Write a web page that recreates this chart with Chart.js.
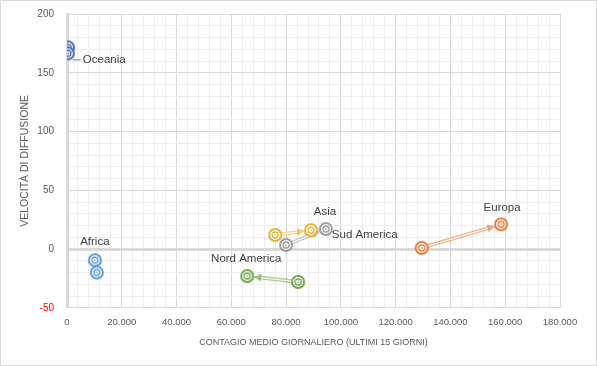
<!DOCTYPE html>
<html>
<head>
<meta charset="utf-8">
<script src="https://cdn.jsdelivr.net/npm/chart.js@4"></script>
<style>
  html, body { margin: 0; padding: 0; background: #fff; }
  #wrap { width: 595px; height: 364px; border: 1px solid #d9d9d9; position: relative; }
</style>
</head>
<body>
<div id="wrap"><canvas id="myChart" width="595" height="364"></canvas></div>
<script>
// data
let regions = ["Oceania", "Africa", "Nord America", "Asia", "Sud America", "Europa"];
let xPrev = [400, 10200, 84400, 76000, 80000, 129500];
let yPrev = [171.5, -9.5, -28, 12, 3.5, 1];
let xLast = [300, 10900, 65800, 89100, 94500, 158500];
let yLast = [166.5, -20, -23, 16, 17, 21];
let colors = ["#4a6cb3", "#5b9bd5", "#72a44c", "#e5b232", "#9c9c9c", "#e07b3c"];
let xTicks = [0, 20000, 40000, 60000, 80000, 100000, 120000, 140000, 160000, 180000];
let yTicks = [-50, 0, 50, 100, 150, 200];

// label offsets from the last point (text placement)
let labelPos = [
  { dx: 15, dy: 6, align: "left" },
  { dx: -2, dy: -31, align: "center" },
  { dx: -1, dy: -17, align: "center" },
  { dx: 14, dy: -18, align: "center" },
  { dx: 6, dy: 6, align: "left" },
  { dx: 1, dy: -17, align: "center" },
];

function ringIcon(color) {
  let c = document.createElement("canvas");
  c.width = 16;
  c.height = 16;
  let g = c.getContext("2d");
  g.fillStyle = "rgba(255,255,255,0.8)";
  g.strokeStyle = color;
  g.lineWidth = 2;
  g.beginPath();
  g.arc(8, 8, 6, 0, 2 * Math.PI);
  g.fill();
  g.stroke();
  g.lineWidth = 1.3;
  g.beginPath();
  g.arc(8, 8, 3, 0, 2 * Math.PI);
  g.stroke();
  g.fillStyle = color;
  g.beginPath();
  g.arc(8, 8, 0.8, 0, 2 * Math.PI);
  g.fill();
  return c;
}

function hexA(hex, a) {
  let n = parseInt(hex.slice(1), 16);
  return `rgba(${(n >> 16) & 255}, ${(n >> 8) & 255}, ${n & 255}, ${a})`;
}

let fmt = (v) => (v === 0 ? "0" : v.toLocaleString("it-IT"));

let datasets = regions.map((name, i) => ({
  label: name,
  data: [
    { x: xPrev[i], y: yPrev[i] },
    { x: xLast[i], y: yLast[i] },
  ],
  pointStyle: ringIcon(colors[i]),
  pointRadius: 6,
  showLine: false,
}));

// arrows between previous and last point + region labels
let arrowPlugin = {
  id: "arrows",
  beforeDatasetsDraw(chart) {
    let ctx = chart.ctx;
    chart.data.datasets.forEach((ds, i) => {
      let pts = chart.getDatasetMeta(i).data;
      let a = pts[0], b = pts[1];
      let dx = b.x - a.x, dy = b.y - a.y;
      let len = Math.hypot(dx, dy);
      if (len < 14) return;
      let ux = dx / len, uy = dy / len;
      let sx = a.x + ux * 6, sy = a.y + uy * 6;
      let ex = b.x - ux * 6, ey = b.y - uy * 6;
      let col = colors[i];
      ctx.save();
      ctx.lineCap = "butt";
      ctx.strokeStyle = hexA(col, 0.55);
      ctx.lineWidth = 3.8;
      ctx.beginPath();
      ctx.moveTo(sx, sy);
      ctx.lineTo(ex - ux * 6, ey - uy * 6);
      ctx.stroke();
      ctx.strokeStyle = "#fff";
      ctx.lineWidth = 1.1;
      ctx.beginPath();
      ctx.moveTo(sx, sy);
      ctx.lineTo(ex - ux * 6, ey - uy * 6);
      ctx.stroke();
      ctx.fillStyle = hexA(col, 0.6);
      ctx.beginPath();
      ctx.moveTo(ex, ey);
      ctx.lineTo(ex - ux * 8 - uy * 4, ey - uy * 8 + ux * 4);
      ctx.lineTo(ex - ux * 8 + uy * 4, ey - uy * 8 - ux * 4);
      ctx.closePath();
      ctx.fill();
      ctx.restore();
    });
  },
  afterDatasetsDraw(chart) {
    let ctx = chart.ctx;
    ctx.save();
    ctx.font = "11.5px 'Liberation Sans', Arial, sans-serif";
    ctx.fillStyle = "#404040";
    ctx.textBaseline = "middle";
    chart.data.datasets.forEach((ds, i) => {
      let p = chart.getDatasetMeta(i).data[1];
      let lp = labelPos[i];
      ctx.textAlign = lp.align;
      ctx.fillText(regions[i], p.x + lp.dx, p.y + lp.dy);
      if (i === 0) {
        ctx.strokeStyle = "#7f7f7f";
        ctx.lineWidth = 1;
        ctx.beginPath();
        ctx.moveTo(p.x + 5, p.y + 6.5);
        ctx.lineTo(p.x + 13, p.y + 6.5);
        ctx.stroke();
      }
    });
    ctx.restore();
  },
};

let ctx = document.getElementById("myChart").getContext("2d");
let myChart = new Chart(ctx, {
  type: "scatter",
  data: { datasets },
  plugins: [arrowPlugin],
  options: {
    responsive: false,
    animation: false,
    layout: { padding: { left: 18, right: 36, top: 13, bottom: 13 } },
    plugins: { legend: { display: false }, tooltip: { enabled: false } },
    scales: {
      x: {
        type: "linear",
        min: xTicks[0],
        max: xTicks[xTicks.length - 1],
        afterBuildTicks: (s) => {
          let t = [];
          for (let v = s.min; v <= s.max; v += 4000) t.push({ value: v });
          s.ticks = t;
        },
        ticks: {
          autoSkip: false,
          maxRotation: 0,
          color: "#595959",
          font: { family: "'Liberation Sans', Arial", size: 9.5 },
          padding: 9,
          callback: (v) => (xTicks.includes(v) ? fmt(v) : ""),
        },
        grid: {
          color: (c) => (c.tick && xTicks.includes(c.tick.value) ? "#d9d9d9" : "#eeeeee"),
          lineWidth: 1,
          drawTicks: false,
        },
        border: { display: false },
        title: {
          display: true,
          text: "CONTAGIO MEDIO GIORNALIERO (ULTIMI 15 GIORNI)",
          color: "#595959",
          font: { family: "'Liberation Sans', Arial", size: 9 },
          padding: { top: 0, bottom: 4 },
        },
      },
      y: {
        type: "linear",
        min: yTicks[0],
        max: yTicks[yTicks.length - 1],
        afterBuildTicks: (s) => {
          let t = [];
          for (let v = s.min; v <= s.max; v += 10) t.push({ value: v });
          s.ticks = t;
        },
        afterFit: (s) => {
          s.width = 48;
          s.paddingTop = 0;
          s.paddingBottom = 0;
        },
        ticks: {
          autoSkip: false,
          color: (c) => (c.tick && c.tick.value < 0 ? "#ff0000" : "#595959"),
          font: { family: "'Liberation Sans', Arial", size: 10 },
          padding: 13,
          callback: (v) => (yTicks.includes(v) ? String(v) : ""),
        },
        grid: {
          color: (c) => (c.tick && yTicks.includes(c.tick.value) ? "#d9d9d9" : "#eeeeee"),
          lineWidth: (c) => (c.tick && c.tick.value === 0 ? 3 : 1),
          drawTicks: false,
        },
        border: { display: true, color: "#d9d9d9", width: 3 },
        title: {
          display: true,
          text: "VELOCITÀ DI DIFFUSIONE",
          color: "#595959",
          font: { family: "'Liberation Sans', Arial", size: 10.5 },
          padding: { top: 0, bottom: 6 },
        },
      },
    },
  },
});
</script>
</body>
</html>
